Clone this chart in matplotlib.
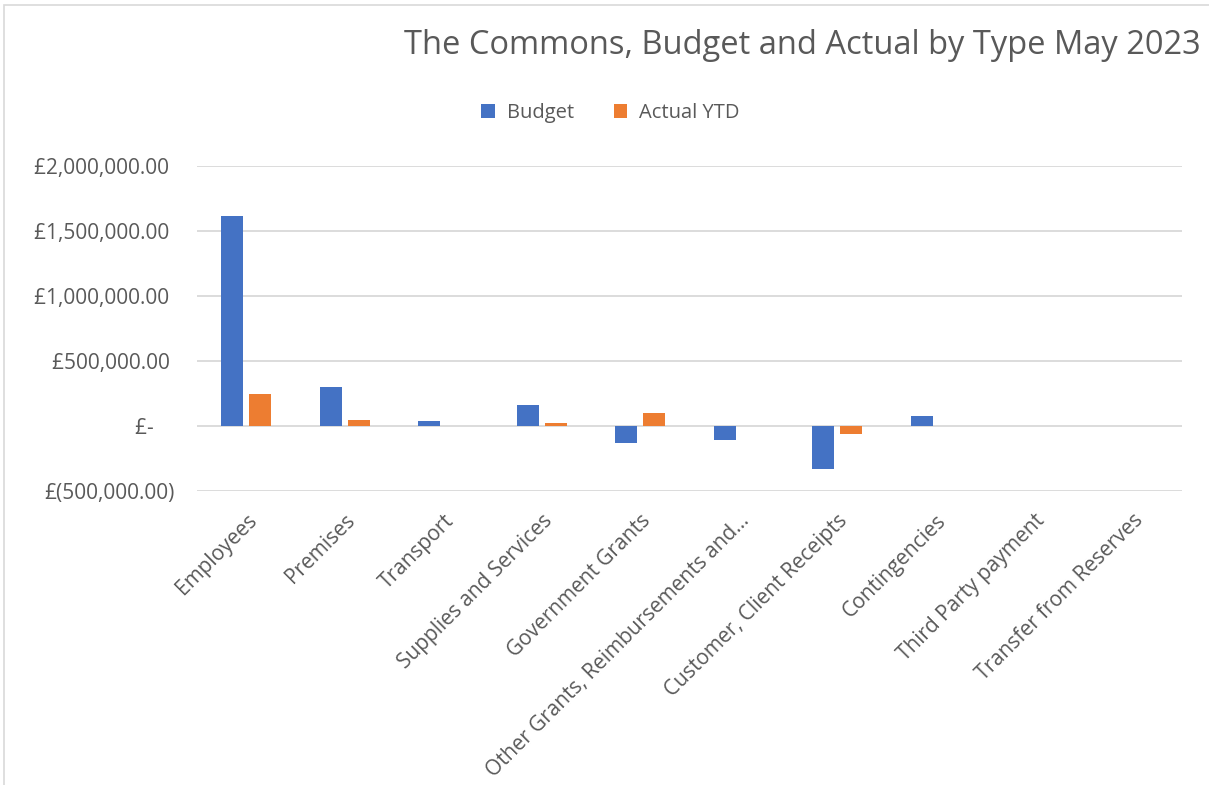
import matplotlib.pyplot as plt
import numpy as np
from matplotlib.ticker import FuncFormatter

categories = ["Employees", "Premises", "Transport", "Supplies and Services",
              "Government Grants", "Other Grants, Reimbursements and...",
              "Customer, Client Receipts", "Contingencies", "Third Party payment",
              "Transfer from Reserves"]
budget = [1613000, 298000, 36000, 157000, -135000, -110000, -333000, 75000, 0, 0]
actual_ytd = [241000, 46000, 1000, 21000, 98000, 0, -64000, 0, 0, 0]
yticks = [-500000, 0, 500000, 1000000, 1500000, 2000000]

plt.rcParams['font.family'] = ['Open Sans', 'DejaVu Sans']
textcol = '#595959'

# accounting style: positives keep room for the closing bracket
def money(v, pos=None):
    if v == 0:
        return "£-    "
    if v < 0:
        return "£({:,.2f})".format(-v)
    return "£{:,.2f} ".format(v)

fig = plt.figure(figsize=(12.09, 7.85), dpi=100)
ax = fig.add_axes([197/1209, 1-490.7/785, (1182-197)/1209, (490.7-165.7)/785])

x = np.arange(len(categories))
w = 0.225
ax.bar(x - 0.142, budget, w, color='#4472c4', label='Budget', zorder=3)
ax.bar(x + 0.142, actual_ytd, w, color='#ed7d31', label='Actual YTD', zorder=3)

ax.set_xlim(-0.5, len(categories) - 0.5)
ax.set_ylim(-500000, 2000000)
ax.set_yticks(yticks)
ax.yaxis.set_major_formatter(FuncFormatter(money))
ax.grid(axis='y', color='#d9d9d9', linewidth=1.3, zorder=0)
for s in ax.spines.values():
    s.set_visible(False)
ax.tick_params(axis='both', length=0, colors=textcol, labelsize=15)
ax.tick_params(axis='y', pad=16)
ax.tick_params(axis='x', pad=14)
ax.set_xticks(x)
ax.set_xticklabels(categories, rotation=45, ha='right', rotation_mode='anchor')

fig.text(0.993, 0.942, "The Commons, Budget and Actual by Type May 2023",
         ha='right', va='center', fontsize=23.5, color=textcol)
fig.legend(loc='center', bbox_to_anchor=(0.505, 1-113/785), ncol=2, frameon=False,
           fontsize=14.5, labelcolor=textcol, handlelength=0.65, handleheight=0.75,
           columnspacing=2.0, handletextpad=0.6)

border = plt.Rectangle((4/1209, -0.01), 1.2, 1-5/785 + 0.01, transform=fig.transFigure,
                       fill=False, edgecolor='#d9d9d9', linewidth=1.2)
fig.patches.append(border)

fig.savefig("out.png", dpi=100)
